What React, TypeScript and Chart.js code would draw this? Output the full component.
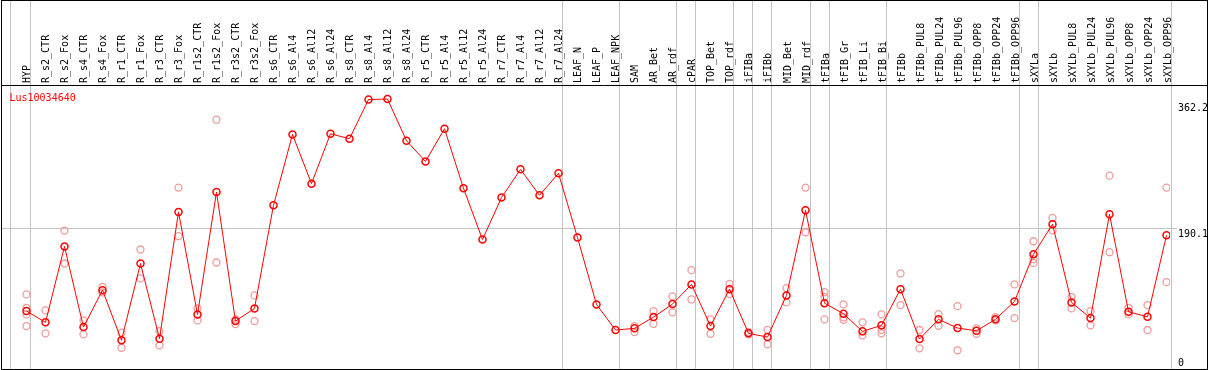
import React, { useEffect, useRef } from "react";
import { Chart, registerables } from "chart.js";

Chart.register(...registerables);

const geneName = "Lus10034640";

const categories = [
  "HYP", "R_s2_CTR", "R_s2_Fox", "R_s4_CTR", "R_s4_Fox", "R_r1_CTR", "R_r1_Fox", "R_r3_CTR", "R_r3_Fox",
  "R_r1s2_CTR", "R_r1s2_Fox", "R_r3s2_CTR", "R_r3s2_Fox", "R_s6_CTR", "R_s6_Al4", "R_s6_Al12", "R_s6_Al24",
  "R_s8_CTR", "R_s8_Al4", "R_s8_Al12", "R_s8_Al24", "R_r5_CTR", "R_r5_Al4", "R_r5_Al12", "R_r5_Al24",
  "R_r7_CTR", "R_r7_Al4", "R_r7_Al12", "R_r7_Al24", "LEAF_N", "LEAF_P", "LEAF_NPK", "SAM", "AR_Bet", "AR_rdf",
  "cPAR", "TOP_Bet", "TOP_rdf", "iFIBa", "iFIBb", "MID_Bet", "MID_rdf", "tFIBa", "tFIB_Gr", "tFIB_Li", "tFIB_Bi",
  "tFIBb", "tFIBb_PUL8", "tFIBb_PUL24", "tFIBb_PUL96", "tFIBb_OPP8", "tFIBb_OPP24", "tFIBb_OPP96",
  "sXYLa", "sXYLb", "sXYLb_PUL8", "sXYLb_PUL24", "sXYLb_PUL96", "sXYLb_OPP8", "sXYLb_OPP24", "sXYLb_OPP96",
];

const meanValues = [
  79.8, 64.8, 165.8, 58.5, 107.7, 40.9, 143.2, 43.0, 211.8, 75.4, 238.3, 66.5, 83.4,
  220.7, 315.0, 249.5, 315.9, 309.3, 361.4, 362.2, 306.6, 279.1, 322.6, 243.3, 175.1,
  230.9, 268.5, 234.0, 263.2, 177.7, 88.7, 54.6, 56.8, 71.8, 89.1, 115.3, 59.9, 109.0,
  50.2, 45.2, 100.7, 214.0, 90.4, 76.2, 52.8, 60.8, 109.0, 42.6, 68.8, 57.2, 53.6, 68.8,
  92.7, 155.5, 195.4, 91.4, 70.5, 208.7, 78.9, 72.2, 180.8,
];

const replicateValues: number[][] = [
  [102.0, 84.2, 75.4, 59.9], [80.7, 50.2], [187.0, 143.2], [67.4, 48.8], [112.1, 104.7],
  [51.0, 31.0], [161.8, 123.3], [53.2, 34.2], [244.2, 179.5], [83.4, 67.4], [334.6, 144.5],
  [68.8, 62.5], [100.7, 66.5],
  [], [], [], [], [], [], [], [], [], [], [], [], [], [], [], [], [], [], [],
  [59.9, 51.9], [79.8, 62.9], [99.3, 78.1], [134.3, 95.3], [68.8, 49.6], [116.1, 102.4],
  [51.9, 48.8], [54.9, 35.6], [110.4, 91.4], [244.2, 184.8], [105.1, 98.8, 68.8],
  [88.7, 71.4, 68.2], [64.8, 47.5], [75.4, 54.9, 50.2], [129.9, 87.8], [54.6, 30.2],
  [75.8, 60.3], [86.4, 27.6], [56.8, 49.6], [71.8, 67.4], [115.3, 70.5],
  [172.8, 148.9, 144.0], [203.8, 187.4], [98.8, 83.4], [79.8, 60.8], [260.1, 158.2],
  [84.2, 75.4], [87.8, 54.6], [244.2, 118.3],
];

// index of the last category in each group (grey separator drawn after it)
const groupEnds = [0, 28, 31, 34, 35, 37, 38, 39, 41, 42, 45, 52, 53, 60];

const axisLabelValues = [362.2, 190.1, 0];
const axisLabelTexts = ["362.2", "190.1", "0"];
const gridValues = [190.1];

// ---- style / layout constants ----
const W = 1209;
const H = 370;
const X_MIN = -0.868;
const X_MAX = 60.184;
const Y_MIN = 2.7;
const Y_MAX = 379.5;
const FONT = '10px "DejaVu Sans Mono", monospace';
const GREY = "#c4c4c4";
const RED = "#ff0000";
const PINK = "#f09a9a";
const SEP_OFFSET = 4;
const LEFT_SEP_VALUE = -0.87;
const LABEL_OFFSETS = [12, 8.5, -5.5];

const overlay = {
  id: "overlay",
  beforeDatasetsDraw(chart: any) {
    const { ctx, scales } = chart;
    const xs = scales.x;
    const ys = scales.y;
    ctx.save();
    ctx.strokeStyle = GREY;
    ctx.lineWidth = 1;
    ctx.beginPath();
    const lx = Math.round(xs.getPixelForValue(LEFT_SEP_VALUE)) + 0.5;
    ctx.moveTo(lx, 1);
    ctx.lineTo(lx, 369);
    groupEnds.forEach((g) => {
      const x = Math.round(xs.getPixelForValue(g) + SEP_OFFSET) + 0.5;
      ctx.moveTo(x, 1);
      ctx.lineTo(x, 369);
    });
    gridValues.forEach((v) => {
      const y = Math.round(ys.getPixelForValue(v)) + 0.5;
      ctx.moveTo(2, y);
      ctx.lineTo(1177, y);
    });
    ctx.stroke();
    ctx.restore();
  },
  afterDraw(chart: any) {
    const { ctx, scales } = chart;
    const xs = scales.x;
    const ys = scales.y;
    ctx.save();
    ctx.font = FONT;
    ctx.fillStyle = "#000";
    ctx.textBaseline = "alphabetic";
    ctx.textAlign = "left";
    categories.forEach((c, i) => {
      const x = Math.round(xs.getPixelForValue(i)) + 4;
      ctx.save();
      ctx.translate(x, 83);
      ctx.rotate(-Math.PI / 2);
      ctx.fillText(c, 0, 0);
      ctx.restore();
    });
    ctx.fillStyle = RED;
    ctx.fillText(geneName, 9.5, 100.5);

    ctx.save();
    ctx.beginPath();
    ctx.rect(0, 0, 1207, H);
    ctx.clip();
    ctx.fillStyle = "#000";
    axisLabelValues.forEach((v, i) => {
      const y = ys.getPixelForValue(v) + LABEL_OFFSETS[i];
      ctx.fillText(axisLabelTexts[i], 1178, y);
    });
    ctx.restore();

    ctx.strokeStyle = "#000";
    ctx.lineWidth = 1;
    ctx.strokeRect(1.5, 0.5, 1206, 369);
    ctx.beginPath();
    ctx.moveTo(1.5, 85.5);
    ctx.lineTo(1207.5, 85.5);
    ctx.stroke();
    ctx.restore();
  },
};

export default function App() {
  const ref = useRef<HTMLCanvasElement | null>(null);
  useEffect(() => {
    if (!ref.current) return;
    const meanData = meanValues.map((v, i) => ({ x: i, y: v }));
    const repData = replicateValues.flatMap((reps, i) => reps.map((v) => ({ x: i, y: v })));
    const chart = new Chart(ref.current, {
      type: "line",
      data: {
        datasets: [
          {
            label: "mean",
            data: meanData,
            borderColor: RED,
            borderWidth: 1,
            pointRadius: 3.5,
            pointBorderWidth: 1.5,
            pointBorderColor: RED,
            pointBackgroundColor: "rgba(0,0,0,0)",
            tension: 0,
            order: 0,
          },
          {
            label: "replicates",
            data: repData,
            showLine: false,
            pointRadius: 3.5,
            pointBorderWidth: 1.3,
            pointBorderColor: PINK,
            pointBackgroundColor: "rgba(0,0,0,0)",
            order: 1,
          },
        ],
      },
      options: {
        animation: false,
        responsive: false,
        events: [],
        layout: { autoPadding: false, padding: { left: 10, right: 39, top: 86, bottom: 1 } },
        scales: {
          x: { type: "linear", display: false, min: X_MIN, max: X_MAX },
          y: { display: false, min: Y_MIN, max: Y_MAX },
        },
        plugins: { legend: { display: false }, tooltip: { enabled: false } },
      },
      plugins: [overlay],
    } as any);
    return () => chart.destroy();
  }, []);
  return (
    <div style={{ position: "absolute", left: 0, top: 0, width: W, height: H, background: "#fff" }}>
      <canvas ref={ref} width={W} height={H} style={{ display: "block", width: W, height: H }} />
    </div>
  );
}
